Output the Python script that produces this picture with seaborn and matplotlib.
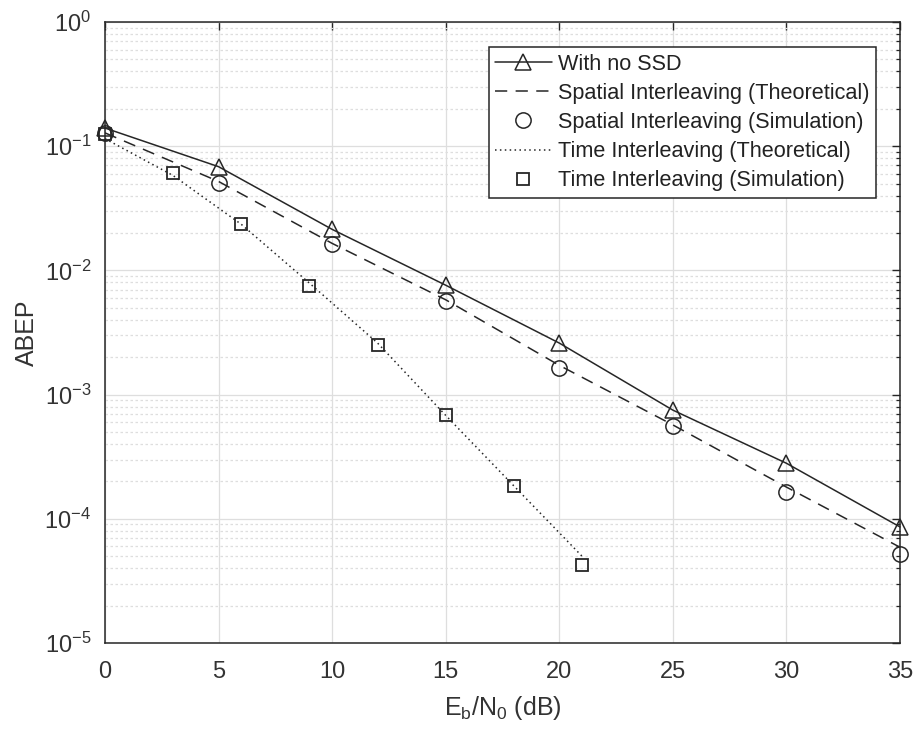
import matplotlib
matplotlib.use("Agg")
import matplotlib.pyplot as plt
import seaborn as sns
from matplotlib.ticker import LogLocator, NullLocator, NullFormatter, FixedLocator

# Eb/N0 grid (dB) and average bit error probability of each scheme
snr_db = [0, 5, 10, 15, 20, 25, 30, 35]
abep_no_ssd = [0.14, 0.0684, 0.0214, 0.0076, 0.0026, 7.5e-4, 2.8e-4, 8.6e-5]
abep_spatial_theory = [0.128, 0.052, 0.0165, 0.0058, 0.00172, 5.7e-4, 1.8e-4, 5.9e-5]
abep_spatial_sim = [0.127, 0.0508, 0.0163, 0.0057, 0.00163, 5.6e-4, 1.65e-4, 5.2e-5]

snr_time_db = [0, 3, 6, 9, 12, 15, 18, 21]
abep_time_theory = [0.115, 0.058, 0.0235, 0.0079, 0.0026, 6.8e-4, 1.84e-4, 5.0e-5]
abep_time_sim = [0.125, 0.0605, 0.0235, 0.0075, 0.0025, 6.8e-4, 1.84e-4, 4.25e-5]

labels = [
    "With no SSD",
    "Spatial Interleaving (Theoretical)",
    "Spatial Interleaving (Simulation)",
    "Time Interleaving (Theoretical)",
    "Time Interleaving (Simulation)",
]

sns.set_style("white")
plt.rcParams["font.family"] = ["Liberation Sans", "DejaVu Sans"]
plt.rcParams["mathtext.fontset"] = "custom"
plt.rcParams["mathtext.rm"] = "Liberation Sans"
plt.rcParams["mathtext.it"] = "Liberation Sans:italic"
plt.rcParams["axes.unicode_minus"] = False

ink = "#262626"
grid_c = "#dedede"

fig = plt.figure(figsize=(9.19, 7.33), dpi=100)
ax = fig.add_axes([105 / 919, 1 - 643 / 733, 795 / 919, 621 / 733])

handles = []
sns.lineplot(x=snr_db, y=abep_no_ssd, ax=ax, color=ink, linewidth=1.1,
             marker="^", markersize=11, markerfacecolor="none",
             markeredgecolor=ink, markeredgewidth=1.1, clip_on=False)
handles.append(ax.lines[-1])
sns.lineplot(x=snr_db, y=abep_spatial_theory, ax=ax, color=ink, linewidth=1.1,
             linestyle=(0, (8, 5.5)))
handles.append(ax.lines[-1])
sns.lineplot(x=snr_db, y=abep_spatial_sim, ax=ax, color=ink, linestyle="none",
             marker="o", markersize=11, markerfacecolor="none",
             markeredgecolor=ink, markeredgewidth=1.1, clip_on=False)
handles.append(ax.lines[-1])
sns.lineplot(x=snr_time_db, y=abep_time_theory, ax=ax, color=ink, linewidth=1.1,
             linestyle=(0, (1, 2.2)))
handles.append(ax.lines[-1])
sns.lineplot(x=snr_time_db, y=abep_time_sim, ax=ax, color=ink, linestyle="none",
             marker="s", markersize=9, markerfacecolor="none",
             markeredgecolor=ink, markeredgewidth=1.3, clip_on=False)
handles.append(ax.lines[-1])

ax.set_yscale("log")
ax.set_xlim(0, 35)
ax.set_ylim(1e-5, 1)
ax.xaxis.set_major_locator(FixedLocator([0, 5, 10, 15, 20, 25, 30, 35]))
ax.xaxis.set_minor_locator(NullLocator())
ax.yaxis.set_major_locator(LogLocator(base=10, numticks=10))
ax.yaxis.set_minor_locator(LogLocator(base=10, subs=range(2, 10), numticks=20))
ax.yaxis.set_minor_formatter(NullFormatter())

ax.grid(which="major", color=grid_c, linewidth=0.9, linestyle="-")
ax.grid(which="minor", axis="y", color=grid_c, linewidth=0.9, linestyle=(0, (2, 2)))
ax.set_axisbelow(True)

ax.tick_params(which="both", direction="in", top=True, right=True,
               colors=ink, labelcolor="#333333")
ax.tick_params(which="major", length=6, width=1.0, labelsize=17)
ax.tick_params(axis="x", which="major", pad=13)
ax.tick_params(axis="y", which="major", pad=10)
ax.tick_params(which="minor", length=3, width=0.9)
for s in ax.spines.values():
    s.set_color(ink)
    s.set_linewidth(1.1)

ax.set_xlabel(r"$\mathregular{E_b/N_0}$ (dB)", fontsize=18, color="#333333", labelpad=8)
ax.set_ylabel("ABEP", fontsize=18, color="#333333", labelpad=4)

leg = ax.legend(handles, labels, loc="upper right",
                bbox_to_anchor=(876 / 919, 1 - 47 / 733),
                bbox_transform=fig.transFigure, borderaxespad=0,
                fontsize=15.6, frameon=True, fancybox=False, framealpha=1,
                edgecolor=ink, handlelength=2.6, handletextpad=0.3,
                labelspacing=0.38, borderpad=0.3)
leg.get_frame().set_linewidth(1.1)
for t in leg.get_texts():
    t.set_color("#222222")

fig.savefig("out.png", dpi=100, facecolor="white")
